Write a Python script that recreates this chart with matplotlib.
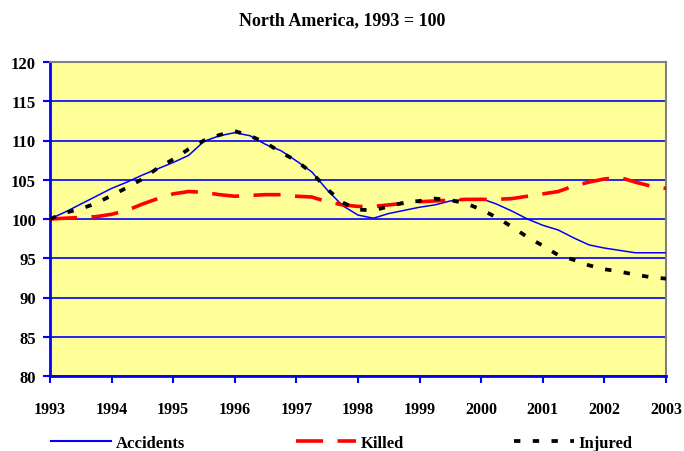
import matplotlib
matplotlib.use("Agg")
import matplotlib.pyplot as plt
from matplotlib.lines import Line2D

years = [1993.0, 1993.25, 1993.5, 1993.75, 1994.0, 1994.25, 1994.5, 1994.75,
         1995.0, 1995.25, 1995.5, 1995.75, 1996.0, 1996.25, 1996.5, 1996.75,
         1997.0, 1997.25, 1997.5, 1997.75, 1998.0, 1998.25, 1998.5, 1998.75,
         1999.0, 1999.25, 1999.5, 1999.75, 2000.0, 2000.25, 2000.5, 2000.75,
         2001.0, 2001.25, 2001.5, 2001.75, 2002.0, 2002.25, 2002.5, 2002.75,
         2003.0]

accidents = [100.0, 100.9, 101.9, 102.9, 103.9, 104.7, 105.6, 106.4,
             107.2, 108.1, 109.9, 110.6, 111.0, 110.6, 109.5, 108.7,
             107.4, 106.0, 103.7, 101.7, 100.5, 100.1, 100.7, 101.1,
             101.5, 101.8, 102.3, 102.5, 102.6, 101.9, 101.0, 100.0,
             99.2, 98.6, 97.6, 96.7, 96.3, 96.0, 95.7, 95.7,
             95.7]

killed = [100.0, 100.1, 100.2, 100.3, 100.6, 101.1, 101.9, 102.6,
          103.2, 103.5, 103.4, 103.1, 102.9, 103.0, 103.1, 103.1,
          102.9, 102.8, 102.2, 101.8, 101.6, 101.6, 101.8, 102.0,
          102.2, 102.3, 102.4, 102.5, 102.5, 102.5, 102.6, 102.9,
          103.2, 103.5, 104.2, 104.7, 105.1, 105.3, 104.7, 104.2,
          103.9]

injured = [100.0, 100.8, 101.3, 102.0, 103.0, 104.0, 105.1, 106.5,
           107.6, 108.9, 110.0, 110.7, 111.2, 110.6, 109.7, 108.5,
           107.4, 105.9, 103.8, 102.1, 101.2, 101.1, 101.6, 102.1,
           102.3, 102.6, 102.4, 102.0, 101.2, 100.2, 99.0, 97.7,
           96.6, 95.4, 94.8, 94.1, 93.6, 93.3, 92.9, 92.6,
           92.4]

xticks = [1993, 1994, 1995, 1996, 1997, 1998, 1999, 2000, 2001, 2002, 2003]
yticks = [80, 85, 90, 95, 100, 105, 110, 115, 120]
title = "North America, 1993 = 100"
labels = ["Accidents", "Killed", "Injured"]

plt.rcParams['font.family'] = ['Liberation Serif', 'DejaVu Serif']
plt.rcParams['font.weight'] = 'bold'

fig = plt.figure(figsize=(6.84, 4.52), dpi=100)
ax = fig.add_axes([50/684, 75/452, 616/684, 314/452])
ax.set_facecolor('#FFFF99')

blue = '#0000FF'
ax.set_axisbelow(True)
ax.yaxis.grid(True, color=blue, linewidth=1.2)
ax.xaxis.grid(False)

ax.plot(years, accidents, color=blue, linewidth=1.1, solid_joinstyle='round', zorder=3)
ax.plot(years, killed, color='#FF0000', linewidth=2.6, dashes=(7.5, 4), zorder=4)
ax.plot(years, injured, color='black', linewidth=2.7, dashes=(1.7, 3.3), zorder=5)

ax.set_xlim(1993, 2003)
ax.set_ylim(80, 120)
ax.set_xticks(xticks)
ax.set_yticks(yticks)
ax.set_xticklabels([str(t) for t in xticks], fontsize=11.5, fontweight='bold')
ax.set_yticklabels([str(t) for t in yticks], fontsize=12, fontweight='bold')
ax.tick_params(axis='both', direction='out', length=5, width=1.5, color=blue)
ax.tick_params(axis='y', pad=5)
ax.tick_params(axis='x', pad=13)

for s in ['left', 'bottom']:
    ax.spines[s].set_color(blue)
    ax.spines[s].set_linewidth(2.0)
for s in ['top', 'right']:
    ax.spines[s].set_color('#808080')
    ax.spines[s].set_linewidth(1.5)

fig.text(0.5, 1 - 21/452, title, ha='center', va='center', fontsize=13, fontweight='bold')

handles = [
    Line2D([], [], color=blue, linewidth=1.5),
    Line2D([], [], color='#FF0000', linewidth=2.6, dashes=(7.5, 4)),
    Line2D([], [], color='black', linewidth=2.7, dashes=(1.7, 3.3)),
]
fig.legend(handles, labels, loc='center', bbox_to_anchor=(0.5, 1 - 444/452), ncol=3,
           frameon=False, handlelength=3.6, handletextpad=0.3, columnspacing=6.6,
           prop={'family': 'Liberation Serif', 'weight': 'bold', 'size': 12})

fig.savefig('out.png', dpi=100)
